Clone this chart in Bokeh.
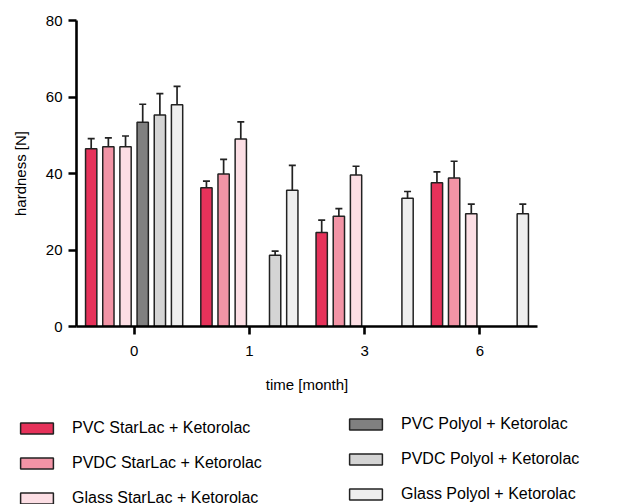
from bokeh.plotting import figure
from bokeh.models import (ColumnDataSource, FactorRange, Range1d, FixedTicker,
                          Legend, LegendItem, Whisker, TeeHead)
from bokeh.transform import dodge
from bokeh.embed import file_html
from bokeh.resources import INLINE

# Storage time points
months = ["0", "1", "3", "6"]

# Mean hardness [N] per formulation (None = not measured)
pvc_starlac = [46.5, 36.3, 24.6, 37.6]
pvdc_starlac = [47.0, 39.9, 28.8, 38.8]
glass_starlac = [47.0, 49.0, 39.6, 29.5]
pvc_polyol = [53.4, None, None, None]
pvdc_polyol = [55.3, 18.6, None, None]
glass_polyol = [58.0, 35.6, 33.5, 29.5]

# Standard deviations
pvc_starlac_sd = [2.6, 1.7, 3.2, 2.8]
pvdc_starlac_sd = [2.3, 3.8, 2.0, 4.4]
glass_starlac_sd = [2.8, 4.5, 2.3, 2.5]
pvc_polyol_sd = [4.7, None, None, None]
pvdc_polyol_sd = [5.6, 1.1, None, None]
glass_polyol_sd = [4.8, 6.5, 1.8, 2.5]

series = [
    ("PVC StarLac + Ketorolac", pvc_starlac, pvc_starlac_sd, "#e6325a"),
    ("PVDC StarLac + Ketorolac", pvdc_starlac, pvdc_starlac_sd, "#f294a6"),
    ("Glass StarLac + Ketorolac", glass_starlac, glass_starlac_sd, "#fcdee4"),
    ("PVC Polyol + Ketorolac", pvc_polyol, pvc_polyol_sd, "#808080"),
    ("PVDC Polyol + Ketorolac", pvdc_polyol, pvdc_polyol_sd, "#d4d4d4"),
    ("Glass Polyol + Ketorolac", glass_polyol, glass_polyol_sd, "#eeeeee"),
]

FONT = "Liberation Sans"
EDGE = "#222222"

# ---- bar chart ----
p = figure(width=640, height=400, x_range=FactorRange(*months),
           y_range=Range1d(0, 80), output_backend="svg",
           toolbar_location=None, min_border_left=76, min_border_right=103,
           min_border_top=20, min_border_bottom=74)
p.outline_line_color = None
p.xgrid.visible = False
p.ygrid.visible = False
p.x_range.range_padding = 0

# ---- legend strip (separate canvas below the chart) ----
lg_fig = figure(width=640, height=104, x_range=FactorRange(*months),
                y_range=Range1d(0, 80), output_backend="svg",
                toolbar_location=None, x_axis_location=None,
                y_axis_location=None, min_border=0)
lg_fig.outline_line_color = None
lg_fig.xgrid.visible = False
lg_fig.ygrid.visible = False

step = 0.149
bar_w = 0.098
items = []
for i, (name, vals, sds, color) in enumerate(series):
    off = (i - 2.5) * step
    xs = [m for m, v in zip(months, vals) if v is not None]
    tops = [v for v in vals if v is not None]
    sd = [s for s, v in zip(sds, vals) if v is not None]
    src = ColumnDataSource(dict(month=xs, top=tops,
                                upper=[t + s for t, s in zip(tops, sd)]))
    style = dict(fill_color=color, line_color=EDGE, line_width=1.5)
    p.vbar(x=dodge("month", off, range=p.x_range), top="top", width=bar_w,
           source=src, **style)
    w = Whisker(base=dodge("month", off, range=p.x_range), lower="top",
                upper="upper", source=src, dimension="height",
                line_color=EDGE, line_width=1.7,
                upper_head=TeeHead(size=7, line_color=EDGE, line_width=1.7),
                lower_head=None, level="glyph")
    p.add_layout(w)
    # hidden twin renderer that only supplies the legend swatch
    r = lg_fig.vbar(x=dodge("month", off, range=lg_fig.x_range), top="top",
                    width=bar_w, source=src, visible=False, **style)
    items.append(LegendItem(label=name, renderers=[r]))

for ax in (p.xaxis[0], p.yaxis[0]):
    ax.axis_line_width = 2.6
    ax.axis_line_color = "black"
    ax.major_tick_line_width = 2.6
    ax.major_tick_line_color = "black"
    ax.major_tick_out = 8
    ax.major_tick_in = 0
    ax.minor_tick_line_color = None
    ax.major_label_text_font = FONT
    ax.major_label_text_font_size = "15px"
    ax.major_label_text_color = "black"
    ax.axis_label_text_font = FONT
    ax.axis_label_text_font_size = "15px"
    ax.axis_label_text_font_style = "normal"
    ax.axis_label_text_color = "black"

p.yaxis[0].ticker = FixedTicker(ticks=[0, 20, 40, 60, 80])
p.yaxis[0].axis_label = "hardness [N]"
p.yaxis[0].major_label_standoff = 6
p.yaxis[0].axis_label_standoff = 14
p.xaxis[0].axis_label = "time [month]"
p.xaxis[0].major_label_standoff = 11
p.xaxis[0].axis_label_standoff = 17


def make_legend(its, loc):
    return Legend(items=its, location=loc, orientation="vertical",
                  glyph_width=41, glyph_height=14, label_standoff=15,
                  label_height=20, spacing=15, padding=0, margin=0,
                  border_line_color=None, background_fill_alpha=0,
                  inactive_fill_alpha=0,
                  label_text_font=FONT, label_text_font_size="16px",
                  label_text_color="black")


lg_fig.add_layout(make_legend(items[:3], (16, -4)))
lg_fig.add_layout(make_legend(items[3:], (345, 0)))

open("out.html", "w").write(file_html([p, lg_fig], INLINE))
